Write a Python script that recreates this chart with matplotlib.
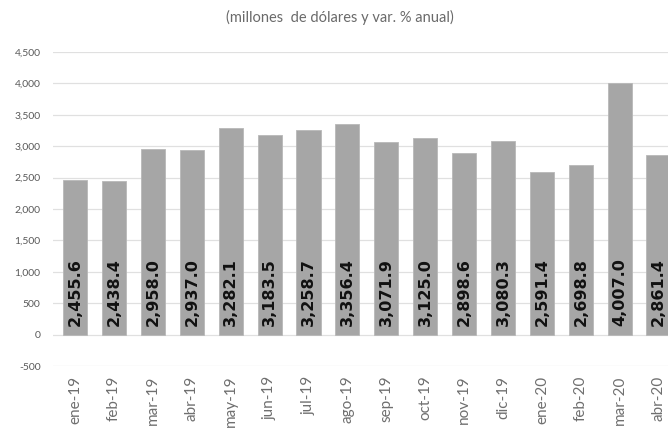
import matplotlib.pyplot as plt
import numpy as np

meses = ['ene-19', 'feb-19', 'mar-19', 'abr-19', 'may-19', 'jun-19', 'jul-19', 'ago-19',
         'sep-19', 'oct-19', 'nov-19', 'dic-19', 'ene-20', 'feb-20', 'mar-20', 'abr-20']
valores = [2455.6, 2438.4, 2958.0, 2937.0, 3282.1, 3183.5, 3258.7, 3356.4,
           3071.9, 3125.0, 2898.6, 3080.3, 2591.4, 2698.8, 4007.0, 2861.4]
y_ticks = [-500, 0, 500, 1000, 1500, 2000, 2500, 3000, 3500, 4000, 4500]

W, H = 668, 428
fig = plt.figure(figsize=(W / 100, H / 100), dpi=100)
# plot area runs off the right edge, like the cropped original
left, right, top, bottom = 53, 678, 52, 366
ax = fig.add_axes([left / W, 1 - bottom / H, (right - left) / W, (bottom - top) / H])

x = np.arange(len(valores))
ax.bar(x, valores, width=0.62, color='#a6a6a6', edgecolor='#b8b8b8', linewidth=0.6, zorder=2)

for xi, v in zip(x, valores):
    ax.annotate(f'{v:,.1f}', (xi, 0), xytext=(0, 6), textcoords='offset points',
                rotation=90, ha='center', va='bottom', fontsize=11.5,
                fontweight='bold', color='#111111', zorder=3)

ax.set_xlim(-0.57, 15.5)
ax.set_ylim(-500, 4500)
ax.set_yticks(y_ticks)
ax.set_yticklabels([f'{t:,}' for t in y_ticks], fontsize=7.5, color='#595959', family='Lato')
ax.set_xticks(x)
ax.set_xticklabels(meses, rotation=90, fontsize=11, color='#6f6f6f', family='Lato')
ax.tick_params(axis='both', length=0)
ax.tick_params(axis='x', pad=7)
ax.tick_params(axis='y', pad=9)
ax.grid(axis='y', color='#e0e0e0', linewidth=0.9, zorder=0)
ax.set_axisbelow(True)
for s in ax.spines.values():
    s.set_visible(False)

fig.text(340 / W, 1 - 17 / H, '(millones  de dólares y var. % anual)', ha='center', va='center',
         fontsize=10.5, color='#6a6a6a', family='Lato')

fig.savefig('out.png', dpi=100)
